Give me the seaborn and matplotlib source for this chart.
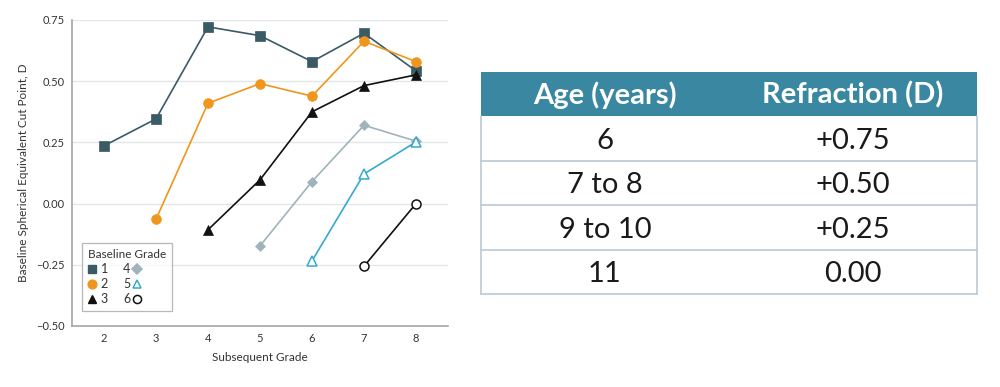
import matplotlib
matplotlib.use("Agg")
import matplotlib.pyplot as plt
from matplotlib.lines import Line2D
from matplotlib.patches import Rectangle
import seaborn as sns
import pandas as pd

# ---------------- data ----------------
baseline_grades = ["1", "2", "3", "4", "5", "6"]
g1_x = [2, 3, 4, 5, 6, 7, 8]
g1_y = [0.236, 0.346, 0.722, 0.686, 0.580, 0.696, 0.542]
g2_x = [3, 4, 5, 6, 7, 8]
g2_y = [-0.064, 0.410, 0.490, 0.439, 0.663, 0.580]
g3_x = [4, 5, 6, 7, 8]
g3_y = [-0.107, 0.097, 0.375, 0.482, 0.526]
g4_x = [5, 6, 7, 8]
g4_y = [-0.173, 0.090, 0.320, 0.255]
g5_x = [6, 7, 8]
g5_y = [-0.234, 0.121, 0.252]
g6_x = [7, 8]
g6_y = [-0.256, 0.000]

x_ticks = [2, 3, 4, 5, 6, 7, 8]
y_ticks = [-0.50, -0.25, 0.00, 0.25, 0.50, 0.75]

table_header = ["Age (years)", "Refraction (D)"]
table_age = ["6", "7 to 8", "9 to 10", "11"]
table_refraction = ["+0.75", "+0.50", "+0.25", "0.00"]

# ---------------- styles ----------------
colors = ["#3a5a66", "#f0961c", "#111111", "#9fb3bb", "#35a9d0", "#111111"]
markers = ["s", "o", "^", "D", "^", "o"]
filled = [True, True, True, True, False, False]
msizes = [6.5, 7, 7, 5.5, 7, 6.5]

xs = [g1_x, g2_x, g3_x, g4_x, g5_x, g6_x]
ys = [g1_y, g2_y, g3_y, g4_y, g5_y, g6_y]
rows = []
for g, xv, yv in zip(baseline_grades, xs, ys):
    for a, b in zip(xv, yv):
        rows.append({"grade": g, "subsequent": a, "cut": b})
df = pd.DataFrame(rows)

sns.set_theme(style="white")
plt.rcParams["font.family"] = ["Lato", "DejaVu Sans"]

fig = plt.figure(figsize=(10, 3.87), dpi=100)
ax = fig.add_axes([0.072, 1 - 326 / 387, 0.448 - 0.072, (326 - 20) / 387])

for i, g in enumerate(baseline_grades):
    sub = df[df["grade"] == g]
    sns.lineplot(data=sub, x="subsequent", y="cut", ax=ax, color=colors[i],
                 linewidth=1.2, marker=markers[i], markersize=msizes[i],
                 markerfacecolor=colors[i] if filled[i] else "white",
                 markeredgecolor=colors[i], markeredgewidth=1.1 if not filled[i] else 0.5,
                 zorder=3 + i, legend=False)

ax.set_xlim(1.385, 8.615)
ax.set_ylim(-0.5, 0.75)
ax.set_xticks(x_ticks)
ax.set_xticklabels([str(t) for t in x_ticks])
ax.set_yticks(y_ticks)
ax.set_yticklabels([f"{t:.2f}".replace("-", "\u2212") for t in y_ticks])
ax.yaxis.grid(True, color="#e3e6e8", linewidth=1.0)
ax.xaxis.grid(False)
for s in ["top", "right"]:
    ax.spines[s].set_visible(False)
for s in ["left", "bottom"]:
    ax.spines[s].set_color("#a6a6a6")
    ax.spines[s].set_linewidth(1.2)
ax.tick_params(axis="both", which="both", direction="out", length=3, width=0.8,
               color="#a6a6a6", labelsize=8, labelcolor="#333333", pad=2)
ax.set_xlabel("Subsequent Grade", fontsize=8.5, color="#333333", labelpad=6)
ax.set_ylabel("Baseline Spherical Equivalent Cut Point, D", fontsize=8.5,
              color="#333333", labelpad=5)

# legend: "marker 1 | 4 marker" layout using three columns
handles = []
labels = []
for i in range(3):
    handles.append(Line2D([], [], color=colors[i], marker=markers[i], linestyle="none",
                          markersize=msizes[i] * 0.9,
                          markerfacecolor=colors[i] if filled[i] else "white",
                          markeredgecolor=colors[i]))
    labels.append(baseline_grades[i])
for i in range(3, 6):
    handles.append(Line2D([], [], linestyle="none", marker=None))
    labels.append(baseline_grades[i])
for i in range(3, 6):
    handles.append(Line2D([], [], color=colors[i], marker=markers[i], linestyle="none",
                          markersize=msizes[i] * 0.9,
                          markerfacecolor=colors[i] if filled[i] else "white",
                          markeredgecolor=colors[i], markeredgewidth=1.1))
    labels.append("")
leg = ax.legend(handles, labels, ncol=3, title="Baseline Grade", loc="lower left",
                bbox_to_anchor=(0.027, 0.049), fontsize=9, title_fontsize=8.5,
                handlelength=0.7, handletextpad=0.35, columnspacing=0.15,
                labelspacing=0.25, frameon=True, fancybox=False, borderpad=0.45,
                borderaxespad=0.0, alignment="left")
leg.get_frame().set_edgecolor("#a6a6a6")
leg.get_frame().set_linewidth(0.9)
for t in leg.get_texts():
    t.set_color("#333333")
leg.get_title().set_color("#333333")

# ---------------- table ----------------
tax = fig.add_axes([0.481, 1 - 294 / 387, 0.977 - 0.481, (294 - 72) / 387])
nrows = len(table_age) + 1
tax.set_xlim(0, 2)
tax.set_ylim(nrows, 0)
tax.axis("off")
tax.add_patch(Rectangle((0, 0), 2, 1, facecolor="#3a87a2", edgecolor="none"))
for j, h in enumerate(table_header):
    tax.text(j + 0.5, 0.52, h, ha="center", va="center", color="white",
             fontsize=21, fontweight="bold")
line_c = "#b9c9d8"
for r, (a, b) in enumerate(zip(table_age, table_refraction), start=1):
    tax.text(0.5, r + 0.55, a, ha="center", va="center", color="#1a1a1a", fontsize=21)
    tax.text(1.5, r + 0.55, b, ha="center", va="center", color="#1a1a1a", fontsize=21)
    tax.plot([0, 2], [r + 1, r + 1], color=line_c, linewidth=1.2, clip_on=False)
tax.plot([0, 0], [1, nrows], color=line_c, linewidth=1.2, clip_on=False)
tax.plot([2, 2], [1, nrows], color=line_c, linewidth=1.2, clip_on=False)

fig.savefig("out.png", dpi=100, facecolor="white")
